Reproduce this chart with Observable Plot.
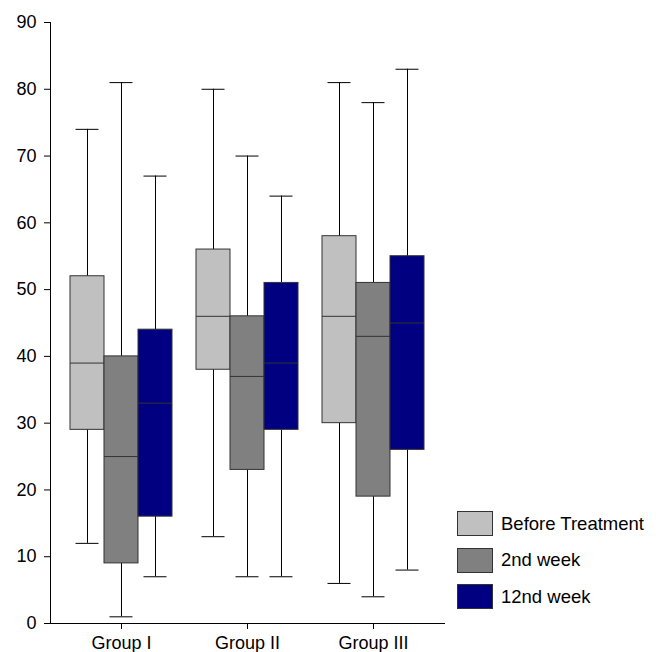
<!DOCTYPE html>
<html><head><meta charset="utf-8">
<script src="https://cdn.jsdelivr.net/npm/d3@7"></script>
<script src="https://cdn.jsdelivr.net/npm/@observablehq/plot@0.6"></script>
<style>
body{margin:0;background:#fff;font-family:"Liberation Sans",Arial,sans-serif;}
#wrap{position:relative;width:661px;height:652px;}
#legend{position:absolute;left:457px;top:511px;}
.item{display:flex;align-items:center;height:25px;margin-bottom:11.7px;font-size:18.5px;color:#000;}
.sw{box-sizing:border-box;width:36px;height:25px;border:1px solid #333;margin-right:8px;}
</style></head><body><div id="wrap"><div id="legend"></div></div>
<script>
const groups = ["Group I", "Group II", "Group III"];
const series = ["Before Treatment", "2nd week", "12nd week"];
const colors = ["#c0c0c0", "#808080", "#000080"];
const yTicks = [0, 10, 20, 30, 40, 50, 60, 70, 80, 90];
// rows: groups, columns: series
const lowVals    = [[12, 1, 7], [13, 7, 7], [6, 4, 8]];
const q1Vals     = [[29, 9, 16], [38, 23, 29], [30, 19, 26]];
const medianVals = [[39, 25, 33], [46, 37, 39], [46, 43, 45]];
const q3Vals     = [[52, 40, 44], [56, 46, 51], [58, 51, 55]];
const highVals   = [[74, 81, 67], [80, 70, 64], [81, 78, 83]];

const data = [];
groups.forEach((g, i) => series.forEach((s, j) => data.push({
  group: g, series: s, low: lowVals[i][j], q1: q1Vals[i][j], median: medianVals[i][j], q3: q3Vals[i][j], high: highVals[i][j]
})));

const plot = Plot.plot({
  width: 661, height: 652,
  marginLeft: 70, marginRight: 237, marginTop: 22, marginBottom: 29,
  style: {fontFamily: "'Liberation Sans', Arial, sans-serif", fontSize: "18px", color: "#000", background: "#fff"},
  fx: {domain: groups, paddingInner: 0.1905, paddingOuter: 0, round: false, label: null, axis: null},
  x: {domain: series, padding: 0, round: false, axis: null},
  y: {domain: [0, 90], axis: null},
  color: {domain: series, range: colors},
  facet: {marginTop: 0, marginBottom: 0, marginLeft: 0, marginRight: 0},
  marks: [
    Plot.frame({anchor: "left", facet: "super", stroke: "#000", insetLeft: -20}),
    Plot.frame({anchor: "bottom", facet: "super", stroke: "#000", insetLeft: -20, insetRight: -20}),
    Plot.axisY({ticks: yTicks, tickSize: 6, tickPadding: 8, label: null, fontSize: 18, dx: -20}),
    Plot.axisFx({anchor: "bottom", tickSize: 6, tickPadding: 7, label: null, fontSize: 18}),
    Plot.ruleX(data, {fx: "group", x: "series", y1: "low", y2: "high", stroke: "#000"}),
    Plot.tickY(data, {fx: "group", x: "series", y: "low", insetLeft: 5.5, insetRight: 5.5, stroke: "#000"}),
    Plot.tickY(data, {fx: "group", x: "series", y: "high", insetLeft: 5.5, insetRight: 5.5, stroke: "#000"}),
    Plot.barY(data, {fx: "group", x: "series", y1: "q1", y2: "q3", fill: "series", stroke: "#333"}),
    Plot.tickY(data, {fx: "group", x: "series", y: "median", stroke: "#333"})
  ]
});
document.getElementById("wrap").prepend(plot);

const legend = document.getElementById("legend");
series.forEach((s, i) => {
  const item = document.createElement("div");
  item.className = "item";
  const sw = document.createElement("div");
  sw.className = "sw";
  sw.style.background = colors[i];
  const label = document.createElement("span");
  label.textContent = s;
  item.append(sw, label);
  legend.append(item);
});
</script></body></html>
